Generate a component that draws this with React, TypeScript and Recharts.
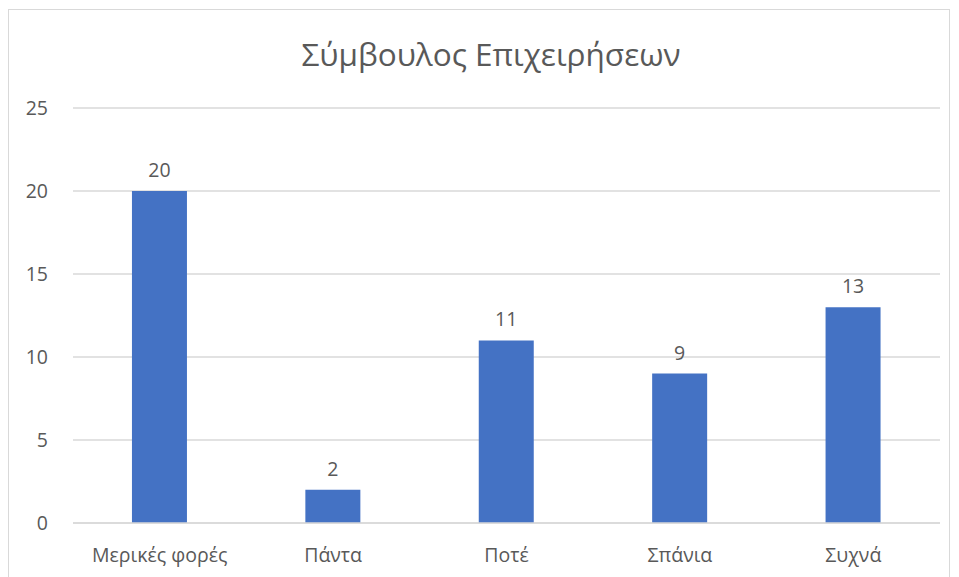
import { Bar, BarChart, CartesianGrid, LabelList, XAxis, YAxis } from "recharts";

const categories = ["Μερικές φορές", "Πάντα", "Ποτέ", "Σπάνια", "Συχνά"];
const counts = [20, 2, 11, 9, 13];
const yTicks = [0, 5, 10, 15, 20, 25];

const data = categories.map((name, i) => ({ name, value: counts[i] }));

const FONT = "'Open Sans', 'Noto Sans', sans-serif";
const TEXT = "#595959";

export default function App() {
  return (
    <div
      style={{
        position: "relative",
        width: 940,
        height: 567,
        marginTop: 1,
        border: "1px solid #d9d9d9",
        borderBottom: "none",
        background: "#fff",
        fontFamily: FONT,
      }}
    >
      <div
        style={{
          position: "absolute",
          top: 22,
          left: 0,
          width: 964,
          textAlign: "center",
          fontSize: 31.5,
          color: TEXT,
          fontFamily: FONT,
        }}
      >
        Σύμβουλος Επιχειρήσεων
      </div>
      <BarChart
        width={940}
        height={567}
        data={data}
        margin={{ top: 98, right: 9, bottom: 24, left: 24 }}
        barCategoryGap="34%"
      >
        <CartesianGrid vertical={false} stroke="#d9d9d9" strokeWidth={1.3} />
        <XAxis
          dataKey="name"
          height={30}
          tickLine={false}
          tickSize={0}
          tickMargin={25}
          axisLine={{ stroke: "#d9d9d9", strokeWidth: 1.3 }}
          tick={{ fill: TEXT, fontSize: 19.5, fontFamily: FONT }}
          interval={0}
        />
        <YAxis
          width={40}
          domain={[0, 25]}
          ticks={yTicks}
          axisLine={false}
          tickLine={false}
          tickSize={0}
          tickMargin={25}
          tick={{ fill: TEXT, fontSize: 19.5, fontFamily: FONT }}
        />
        <Bar dataKey="value" fill="#4472C4" isAnimationActive={false}>
          <LabelList
            dataKey="value"
            position="top"
            offset={14}
            style={{ fill: TEXT, fontSize: 19.5, fontFamily: FONT }}
          />
        </Bar>
      </BarChart>
    </div>
  );
}
